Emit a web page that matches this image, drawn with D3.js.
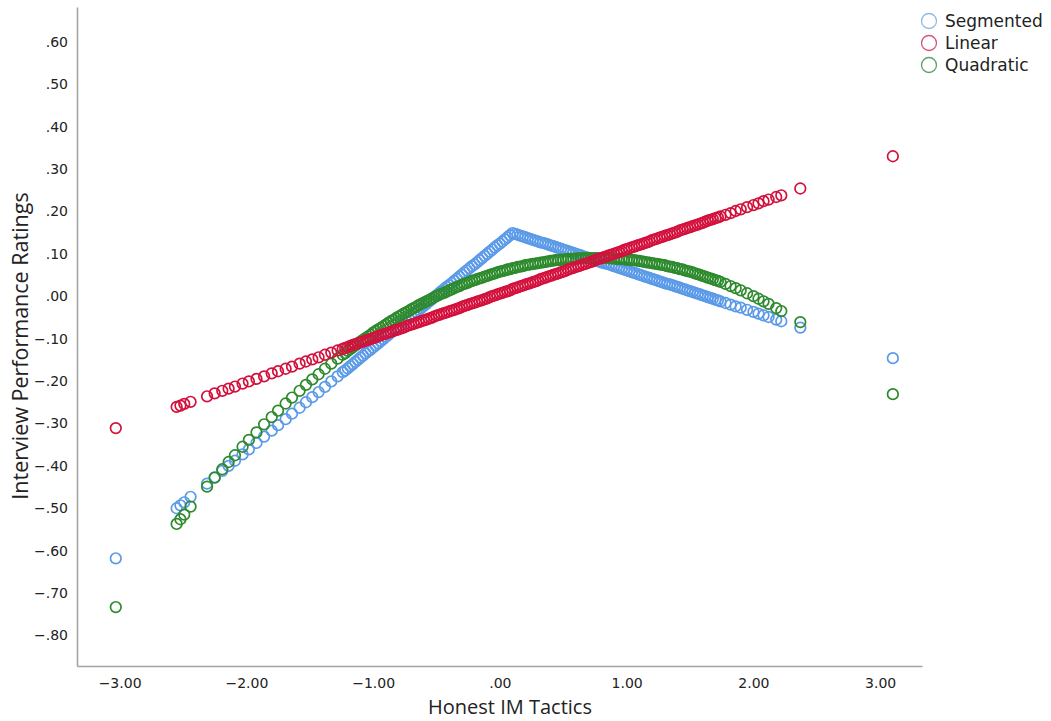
<!DOCTYPE html>
<html>
<head>
<meta charset="utf-8">
<script src="https://d3js.org/d3.v7.min.js"></script>
<style>
  body { margin: 0; background: #fff; }
  .tick text { font-family: "DejaVu Sans", sans-serif; font-size: 14px; fill: #222; }
  .axistitle { font-family: "Open Sans", sans-serif; fill: #222; }
  .legendtext { font-family: "DejaVu Sans", sans-serif; font-size: 17px; fill: #222; }
</style>
</head>
<body>
<svg class="chart"></svg>
<script>
// values
var honestIM = [
  -3.03,
  -2.55, -2.52, -2.49, -2.44, -2.31, -2.25, -2.19, -2.14, -2.09, -2.03,
  -1.98, -1.92, -1.86, -1.80, -1.75, -1.69, -1.64, -1.58, -1.53, -1.48,
  -1.43, -1.38, -1.33, -1.28,
  -1.24, -1.22, -1.20, -1.18, -1.16, -1.14, -1.12, -1.10, -1.08, -1.06,
  -1.04, -1.02, -1.00, -0.98, -0.96, -0.94, -0.92, -0.90, -0.88, -0.86,
  -0.84, -0.82, -0.80, -0.78, -0.76, -0.74, -0.72, -0.70, -0.68, -0.66,
  -0.64, -0.62, -0.60, -0.58, -0.56, -0.54, -0.52, -0.50, -0.48, -0.46,
  -0.44, -0.42, -0.40, -0.38, -0.36, -0.34, -0.32, -0.30, -0.28, -0.26,
  -0.24, -0.22, -0.20, -0.18, -0.16, -0.14, -0.12, -0.10, -0.08, -0.06,
  -0.04, -0.02, 0.00, 0.02, 0.04, 0.06, 0.08, 0.10, 0.12, 0.14,
  0.16, 0.18, 0.20, 0.22, 0.24, 0.26, 0.28, 0.30, 0.32, 0.34,
  0.36, 0.38, 0.40, 0.42, 0.44, 0.46, 0.48, 0.50, 0.52, 0.54,
  0.56, 0.58, 0.60, 0.62, 0.64, 0.66, 0.68, 0.70, 0.72, 0.74,
  0.76, 0.78, 0.80, 0.82, 0.84, 0.86, 0.88, 0.90, 0.92, 0.94,
  0.96, 0.98, 1.00, 1.02, 1.04, 1.06, 1.08, 1.10, 1.12, 1.14,
  1.16, 1.18, 1.20, 1.22, 1.24, 1.26, 1.28, 1.30, 1.32, 1.34,
  1.36, 1.38, 1.40, 1.42, 1.44, 1.46, 1.48, 1.50, 1.52, 1.54,
  1.56, 1.58, 1.60, 1.62, 1.64, 1.66, 1.68, 1.70, 1.72, 1.74,
  1.78, 1.82, 1.86, 1.90, 1.95, 2.00, 2.04, 2.08, 2.12, 2.18,
  2.22, 2.37,
  3.10
];

var segmented = [
  -0.618,
  -0.500, -0.493, -0.486, -0.473, -0.442, -0.427, -0.412, -0.400, -0.388, -0.373,
  -0.361, -0.346, -0.331, -0.317, -0.304, -0.290, -0.277, -0.263, -0.250, -0.238,
  -0.226, -0.214, -0.201, -0.189,
  -0.179, -0.175, -0.170, -0.165, -0.160, -0.155, -0.150, -0.145, -0.140, -0.135,
  -0.130, -0.126, -0.121, -0.116, -0.111, -0.106, -0.101, -0.096, -0.091, -0.086,
  -0.081, -0.077, -0.072, -0.067, -0.062, -0.057, -0.052, -0.047, -0.042, -0.037,
  -0.032, -0.028, -0.023, -0.018, -0.013, -0.008, -0.003, 0.002, 0.007, 0.012,
  0.017, 0.022, 0.026, 0.031, 0.036, 0.041, 0.046, 0.051, 0.056, 0.061,
  0.066, 0.071, 0.075, 0.080, 0.085, 0.090, 0.095, 0.100, 0.105, 0.110,
  0.115, 0.120, 0.124, 0.129, 0.134, 0.139, 0.144, 0.149, 0.147, 0.145,
  0.143, 0.141, 0.139, 0.137, 0.135, 0.133, 0.131, 0.129, 0.127, 0.126,
  0.124, 0.122, 0.120, 0.118, 0.116, 0.114, 0.112, 0.110, 0.108, 0.106,
  0.104, 0.102, 0.100, 0.098, 0.096, 0.094, 0.092, 0.090, 0.088, 0.086,
  0.084, 0.082, 0.080, 0.078, 0.077, 0.075, 0.073, 0.071, 0.069, 0.067,
  0.065, 0.063, 0.061, 0.059, 0.057, 0.055, 0.053, 0.051, 0.049, 0.047,
  0.045, 0.043, 0.041, 0.039, 0.037, 0.035, 0.033, 0.031, 0.029, 0.028,
  0.026, 0.024, 0.022, 0.020, 0.018, 0.016, 0.014, 0.012, 0.010, 0.008,
  0.006, 0.004, 0.002, 0.000, -0.002, -0.004, -0.006, -0.008, -0.010, -0.012,
  -0.016, -0.020, -0.024, -0.027, -0.032, -0.037, -0.041, -0.045, -0.049, -0.055,
  -0.059, -0.074,
  -0.146
];

var linear = [
  -0.311,
  -0.261, -0.258, -0.254, -0.249, -0.236, -0.229, -0.223, -0.218, -0.213, -0.206,
  -0.201, -0.195, -0.189, -0.182, -0.177, -0.171, -0.166, -0.159, -0.154, -0.149,
  -0.144, -0.138, -0.133, -0.128,
  -0.124, -0.122, -0.120, -0.117, -0.115, -0.113, -0.111, -0.109, -0.107, -0.105,
  -0.103, -0.101, -0.099, -0.097, -0.094, -0.092, -0.090, -0.088, -0.086, -0.084,
  -0.082, -0.080, -0.078, -0.076, -0.074, -0.071, -0.069, -0.067, -0.065, -0.063,
  -0.061, -0.059, -0.057, -0.055, -0.053, -0.051, -0.048, -0.046, -0.044, -0.042,
  -0.040, -0.038, -0.036, -0.034, -0.032, -0.030, -0.028, -0.025, -0.023, -0.021,
  -0.019, -0.017, -0.015, -0.013, -0.011, -0.009, -0.007, -0.005, -0.002, 0.000,
  0.002, 0.004, 0.006, 0.008, 0.010, 0.012, 0.014, 0.017, 0.019, 0.021,
  0.023, 0.025, 0.027, 0.029, 0.031, 0.033, 0.035, 0.037, 0.040, 0.042,
  0.044, 0.046, 0.048, 0.050, 0.052, 0.054, 0.056, 0.058, 0.060, 0.063,
  0.065, 0.067, 0.069, 0.071, 0.073, 0.075, 0.077, 0.079, 0.081, 0.083,
  0.086, 0.088, 0.090, 0.092, 0.094, 0.096, 0.098, 0.100, 0.102, 0.104,
  0.106, 0.109, 0.111, 0.113, 0.115, 0.117, 0.119, 0.121, 0.123, 0.125,
  0.127, 0.129, 0.132, 0.134, 0.136, 0.138, 0.140, 0.142, 0.144, 0.146,
  0.148, 0.150, 0.152, 0.155, 0.157, 0.159, 0.161, 0.163, 0.165, 0.167,
  0.169, 0.171, 0.173, 0.176, 0.178, 0.180, 0.182, 0.184, 0.186, 0.188,
  0.192, 0.196, 0.201, 0.205, 0.210, 0.215, 0.219, 0.224, 0.228, 0.234,
  0.238, 0.254,
  0.330
];

var quadratic = [
  -0.733,
  -0.537, -0.526, -0.515, -0.496, -0.449, -0.428, -0.408, -0.391, -0.375, -0.355,
  -0.339, -0.321, -0.302, -0.285, -0.270, -0.253, -0.239, -0.223, -0.209, -0.196,
  -0.184, -0.171, -0.159, -0.147,
  -0.138, -0.134, -0.129, -0.125, -0.120, -0.116, -0.111, -0.107, -0.103, -0.099,
  -0.095, -0.091, -0.086, -0.082, -0.078, -0.075, -0.071, -0.067, -0.063, -0.059,
  -0.056, -0.052, -0.048, -0.045, -0.041, -0.038, -0.035, -0.031, -0.028, -0.025,
  -0.021, -0.018, -0.015, -0.012, -0.009, -0.006, -0.003, 0.000, 0.003, 0.006,
  0.008, 0.011, 0.014, 0.016, 0.019, 0.022, 0.024, 0.027, 0.029, 0.031,
  0.034, 0.036, 0.038, 0.040, 0.042, 0.044, 0.046, 0.048, 0.050, 0.052,
  0.054, 0.056, 0.058, 0.059, 0.061, 0.063, 0.064, 0.066, 0.067, 0.069,
  0.070, 0.071, 0.073, 0.074, 0.075, 0.076, 0.077, 0.078, 0.079, 0.080,
  0.081, 0.082, 0.083, 0.084, 0.085, 0.085, 0.086, 0.086, 0.087, 0.088,
  0.088, 0.088, 0.089, 0.089, 0.089, 0.090, 0.090, 0.090, 0.090, 0.090,
  0.090, 0.090, 0.090, 0.090, 0.090, 0.089, 0.089, 0.089, 0.088, 0.088,
  0.088, 0.087, 0.086, 0.086, 0.085, 0.085, 0.084, 0.083, 0.082, 0.081,
  0.080, 0.079, 0.078, 0.077, 0.076, 0.075, 0.074, 0.073, 0.071, 0.070,
  0.069, 0.067, 0.066, 0.064, 0.063, 0.061, 0.059, 0.058, 0.056, 0.054,
  0.052, 0.050, 0.048, 0.046, 0.044, 0.042, 0.040, 0.038, 0.036, 0.034,
  0.029, 0.024, 0.019, 0.014, 0.007, 0.000, -0.006, -0.012, -0.018, -0.028,
  -0.035, -0.061,
  -0.231
];

var seriesNames = ["Segmented", "Linear", "Quadratic"];
var xTicks = [-3, -2, -1, 0, 1, 2, 3];
var yTicks = [0.6, 0.5, 0.4, 0.3, 0.2, 0.1, 0, -0.1, -0.2, -0.3, -0.4, -0.5, -0.6, -0.7, -0.8];

var colors = { "Segmented": "#5a9ae8", "Linear": "#d3113d", "Quadratic": "#2d8a2d" };
var legendColors = { "Segmented": "#8fb8e8", "Linear": "#d2557a", "Quadratic": "#5f9f6a" };

var width = 1051, height = 721;

var svg = d3.select(".chart")
	.attr("width", width)
	.attr("height", height);

var x = d3.scaleLinear()
	.domain([-3.336, 3.33])
	.range([77, 922]);

var y = d3.scaleLinear()
	.domain([-0.872, 0.682])
	.range([666, 7]);

// tick label format like the SPSS output: ".60", "−.10", "1.00"
function spssFormat(v) {
	var s = Math.abs(v).toFixed(2);
	if (s.charAt(0) === "0") s = s.slice(1);
	return (v < -1e-9 ? "\u2212" : "") + s;
}

// x axis
var xAxis = d3.axisBottom(x)
	.tickValues(xTicks)
	.tickSize(0)
	.tickSizeOuter(0)
	.tickPadding(12)
	.tickFormat(spssFormat);

svg.append("g")
	.attr("class", "x axis")
	.attr("transform", "translate(0,666)")
	.call(xAxis);

// y axis
var yAxis = d3.axisLeft(y)
	.tickValues(yTicks)
	.tickSize(0)
	.tickSizeOuter(0)
	.tickPadding(9)
	.tickFormat(spssFormat);

svg.append("g")
	.attr("class", "y axis")
	.attr("transform", "translate(77,0)")
	.call(yAxis);

svg.selectAll(".axis .domain")
	.attr("stroke", "#a3a3a3")
	.attr("stroke-width", 1.6);

// axis titles
svg.append("text")
	.attr("class", "axistitle")
	.attr("x", 510)
	.attr("y", 714)
	.attr("text-anchor", "middle")
	.style("font-size", "20px")
	.text("Honest IM Tactics");

svg.append("text")
	.attr("class", "axistitle")
	.attr("transform", "translate(28,346) rotate(-90)")
	.attr("text-anchor", "middle")
	.style("font-size", "21.5px")
	.text("Interview Performance Ratings");

// points, one group per series
var seriesValues = { "Segmented": segmented, "Linear": linear, "Quadratic": quadratic };
var drawOrder = ["Segmented", "Quadratic", "Linear"];

drawOrder.forEach(function(name) {
	var pts = honestIM.map(function(v, i) { return { vx: v, vy: seriesValues[name][i] }; });
	svg.append("g")
		.attr("class", "series")
		.selectAll("circle")
		.data(pts)
	  .enter().append("circle")
		.attr("cx", function(d) { return x(d.vx); })
		.attr("cy", function(d) { return y(d.vy); })
		.attr("r", 5.3)
		.attr("fill", "none")
		.attr("stroke", colors[name])
		.attr("stroke-width", 1.7);
});

// legend
var legend = svg.append("g").attr("class", "legend");
seriesNames.forEach(function(name, i) {
	var ly = 21 + i * 22;
	legend.append("circle")
		.attr("cx", 929)
		.attr("cy", ly)
		.attr("r", 7.5)
		.attr("fill", "none")
		.attr("stroke", legendColors[name])
		.attr("stroke-width", 1.3);
	legend.append("text")
		.attr("class", "legendtext")
		.attr("x", 945)
		.attr("y", ly)
		.attr("dy", "0.35em")
		.text(name);
});
</script>
</body>
</html>
